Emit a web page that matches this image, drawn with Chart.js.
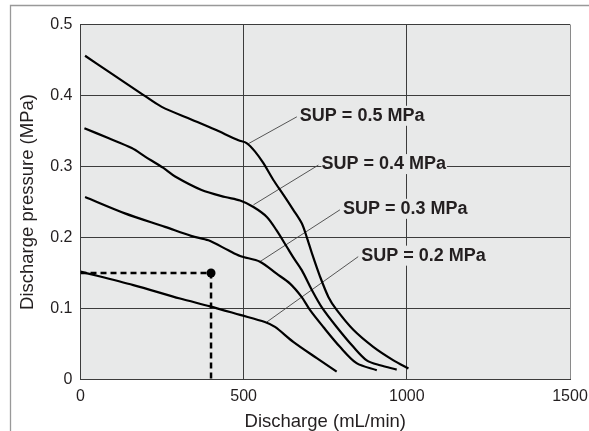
<!DOCTYPE html>
<html>
<head>
<meta charset="utf-8">
<script src="https://cdn.jsdelivr.net/npm/chart.js@4/dist/chart.umd.min.js"></script>
<style>
  html, body { margin: 0; padding: 0; background: #fff; }
  canvas { display: block; }
</style>
</head>
<body>
<canvas id="chart" width="589" height="431"></canvas>
<script>
// discharge (mL/min) vs discharge pressure (MPa), one pair of arrays per supply pressure
const flow05 = [14, 85, 192, 249, 341, 412, 484, 509, 535, 560, 591, 622, 652, 678, 693, 709, 734, 760, 785, 836, 897, 959, 1005];
const pres05 = [0.456, 0.434, 0.401, 0.384, 0.366, 0.352, 0.337, 0.333, 0.321, 0.305, 0.281, 0.260, 0.239, 0.220, 0.201, 0.178, 0.145, 0.116, 0.098, 0.070, 0.046, 0.027, 0.0155];

const flow04 = [12, 85, 157, 198, 254, 290, 371, 443, 489, 530, 571, 601, 632, 652, 678, 709, 739, 785, 836, 877, 918, 969];
const pres04 = [0.354, 0.340, 0.326, 0.314, 0.298, 0.286, 0.267, 0.257, 0.252, 0.243, 0.229, 0.210, 0.187, 0.172, 0.154, 0.126, 0.102, 0.074, 0.046, 0.027, 0.020, 0.014];

const flow03 = [14, 136, 259, 341, 392, 453, 489, 550, 601, 642, 678, 703, 744, 795, 846, 908];
const pres03 = [0.257, 0.234, 0.215, 0.202, 0.196, 0.182, 0.174, 0.166, 0.149, 0.135, 0.116, 0.098, 0.074, 0.046, 0.023, 0.013];

const flow02 = [0, 162, 305, 397, 489, 565, 596, 652, 724, 785];
const pres02 = [0.152, 0.133, 0.114, 0.103, 0.091, 0.081, 0.074, 0.053, 0.030, 0.011];

// example reading: dashed guide to the operating point
const guideFlow = [0, 400, 400];
const guidePres = [0.15, 0.15, 0];

// leader lines: [start on curve, end at label]
const labelTexts = ['SUP = 0.5 MPa', 'SUP = 0.4 MPa', 'SUP = 0.3 MPa', 'SUP = 0.2 MPa'];
const leaderFrom = [[510, 0.331], [530, 0.246], [550, 0.166], [571, 0.081]];
const leaderTo = [[663, 0.370], [729, 0.302], [795, 0.239], [851, 0.173]];

const xTickValues = [0, 500, 1000, 1500];
const yTickValues = [0, 0.1, 0.2, 0.3, 0.4, 0.5];
const yTickLabels = ['0', '0.1', '0.2', '0.3', '0.4', '0.5'];

const INK = '#231f20';
const GRID = '#3c3c3c';
const PLOT_BG = '#e8e9e9';
const FONT = '"Liberation Sans", Arial, sans-serif';

function toPoints(xs, ys) {
    return xs.map((x, i) => ({ x: x, y: ys[i] }));
}

function curve(xs, ys) {
    return {
        data: toPoints(xs, ys),
        borderColor: '#000',
        borderWidth: 2.2,
        pointRadius: 0,
        tension: 0.3,
        fill: false
    };
}

const leaderSets = leaderFrom.map((p, i) => ({
    data: [{ x: p[0], y: p[1] }, { x: leaderTo[i][0], y: leaderTo[i][1] }],
    borderColor: '#444',
    borderWidth: 0.9,
    pointRadius: 0,
    tension: 0,
    fill: false
}));

// white page, grey frame, grey plot area
const backdrop = {
    id: 'backdrop',
    beforeDraw(chart) {
        const { ctx, chartArea: a } = chart;
        ctx.save();
        ctx.fillStyle = '#fff';
        ctx.fillRect(0, 0, chart.width, chart.height);
        ctx.strokeStyle = '#999';
        ctx.lineWidth = 1.3;
        ctx.beginPath();
        ctx.moveTo(10.5, chart.height);
        ctx.lineTo(10.5, 5.5);
        ctx.lineTo(chart.width, 5.5);
        ctx.stroke();
        ctx.fillStyle = PLOT_BG;
        ctx.fillRect(a.left, a.top, a.right - a.left, a.bottom - a.top);
        ctx.restore();
    }
};

// curve labels at the end of each leader line
const curveLabels = {
    id: 'curveLabels',
    afterDatasetsDraw(chart) {
        const { ctx, scales } = chart;
        ctx.save();
        ctx.font = 'bold 18px ' + FONT;
        ctx.textBaseline = 'middle';
        ctx.textAlign = 'left';
        labelTexts.forEach((t, i) => {
            const x = scales.x.getPixelForValue(leaderTo[i][0]) + 3;
            const y = scales.y.getPixelForValue(leaderTo[i][1]) - 1;
            const w = ctx.measureText(t).width;
            ctx.fillStyle = PLOT_BG;
            ctx.fillRect(x, y - 10, w + 1, 20);
            ctx.fillStyle = INK;
            ctx.fillText(t, x, y);
        });
        ctx.restore();
    }
};

const ctx = document.getElementById('chart').getContext('2d');
new Chart(ctx, {
    type: 'line',
    data: {
        datasets: [
            curve(flow05, pres05),
            curve(flow04, pres04),
            curve(flow03, pres03),
            curve(flow02, pres02),
            {
                data: toPoints(guideFlow, guidePres),
                borderColor: '#000',
                borderWidth: 2.5,
                borderDash: [6, 4],
                pointRadius: [0, 4.5, 0],
                pointBackgroundColor: '#000',
                pointBorderWidth: 0,
                tension: 0,
                fill: false
            },
            ...leaderSets
        ]
    },
    options: {
        responsive: false,
        animation: false,
        layout: { padding: { left: 0, right: 19, top: 24.5, bottom: 0 } },
        plugins: {
            legend: { display: false },
            tooltip: { enabled: false }
        },
        scales: {
            x: {
                type: 'linear',
                min: 0,
                max: 1500,
                afterBuildTicks: s => { s.ticks = xTickValues.map(v => ({ value: v })); },
                afterFit: s => {
                    s.height = 51.5;
                    s.paddingLeft = 0;
                    s.paddingRight = 0;
                },
                ticks: {
                    color: INK,
                    padding: 7,
                    maxRotation: 0,
                    font: { family: FONT, size: 16 },
                    callback: v => String(v)
                },
                grid: {
                    color: c => (c.tick && c.tick.value === 1500 ? '#8a8a8a' : GRID),
                    lineWidth: 1,
                    drawTicks: false
                },
                border: { display: true, color: GRID, width: 1 },
                title: {
                    display: true,
                    text: 'Discharge (mL/min)',
                    color: INK,
                    padding: 0,
                    font: { family: FONT, size: 18.5, lineHeight: 1 }
                }
            },
            y: {
                type: 'linear',
                min: 0,
                max: 0.5,
                afterBuildTicks: s => { s.ticks = yTickValues.map(v => ({ value: v })); },
                afterFit: s => { s.width = 80.5; },
                ticks: {
                    color: INK,
                    padding: 8,
                    font: { family: FONT, size: 16 },
                    callback: (v, i) => yTickLabels[i]
                },
                grid: { color: GRID, lineWidth: 1, drawTicks: false },
                border: { display: true, color: GRID, width: 1 },
                title: {
                    display: true,
                    text: 'Discharge pressure (MPa)',
                    color: INK,
                    padding: { top: 19, bottom: 0 },
                    font: { family: FONT, size: 18.5, lineHeight: 1 }
                }
            }
        }
    },
    plugins: [backdrop, curveLabels]
});
</script>
</body>
</html>
